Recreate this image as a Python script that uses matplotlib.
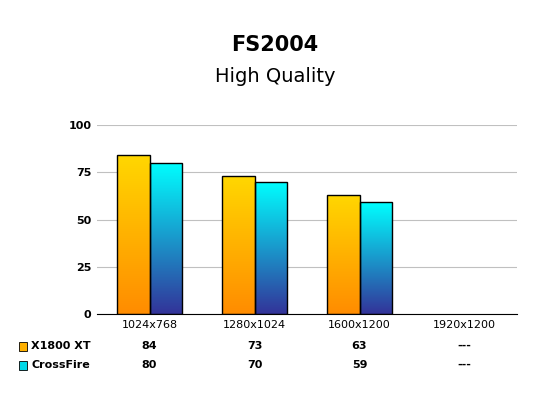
import matplotlib
matplotlib.use("Agg")
import matplotlib.pyplot as plt
import numpy as np
from matplotlib.colors import LinearSegmentedColormap

categories = ["1024x768", "1280x1024", "1600x1200", "1920x1200"]
series_names = ["X1800 XT", "CrossFire"]
x1800 = [84, 73, 63, None]
crossfire = [80, 70, 59, None]
yticks = [0, 25, 50, 75, 100]

fig = plt.figure(figsize=(5.5, 4.11), dpi=100)
ax = fig.add_axes([97/550, 1-314/411, 420/550, 189/411])
ax.set_xlim(0, 4)
ax.set_ylim(0, 100)
ax.set_yticks(yticks)
ax.set_yticklabels([str(t) for t in yticks], fontsize=8, fontweight="bold", family="Arial" if False else "DejaVu Sans")
ax.set_xticks([i + 0.5 for i in range(4)])
ax.set_xticklabels(categories, fontsize=8)
ax.tick_params(length=0, pad=4)
ax.grid(axis="y", color="#c0c0c0", lw=0.8)
ax.set_axisbelow(True)
for s in ["top", "right", "left"]:
    ax.spines[s].set_visible(False)
ax.spines["bottom"].set_color("black")

cmaps = [LinearSegmentedColormap.from_list("o", ["#FF8C00", "#FFD700"]),
         LinearSegmentedColormap.from_list("c", ["#333399", "#00FFFF"])]
w = 0.31
grad = np.linspace(0, 1, 256).reshape(-1, 1)
for si, vals in enumerate([x1800, crossfire]):
    for i, v in enumerate(vals):
        if v is None:
            continue
        x0 = i + 0.5 - w + si * w
        bar = ax.bar(x0, v, width=w, align="edge", color="none", edgecolor="black", lw=1, zorder=3)[0]
        im = ax.imshow(grad, extent=[x0, x0 + w, 0, v], origin="lower", cmap=cmaps[si],
                       aspect="auto", zorder=2)
        im.set_clip_path(bar)
ax.set_xlim(0, 4)
ax.set_ylim(0, 100)

fig.text(0.5, 1-45/411, "FS2004", ha="center", va="center", fontsize=15, fontweight="bold")
fig.text(0.5, 1-76/411, "High Quality", ha="center", va="center", fontsize=14)

colors = ["#FFB000", "#00D8E8"]
for si, (name, vals) in enumerate(zip(series_names, [x1800, crossfire])):
    y = 1 - (346 + si * 19) / 411
    fig.patches.append(plt.Rectangle((19/550, y - 0.011), 8/550, 9/411, transform=fig.transFigure,
                                     facecolor=colors[si], edgecolor="black", lw=0.6))
    fig.text(31/550, y, name, fontsize=8, fontweight="bold", va="center")
    for i, v in enumerate(vals):
        xc = (97 + 105 * (i + 0.5)) / 550
        fig.text(xc, y, "---" if v is None else str(v), fontsize=8, fontweight="bold",
                 ha="center", va="center")

fig.savefig("out.png", dpi=100)
